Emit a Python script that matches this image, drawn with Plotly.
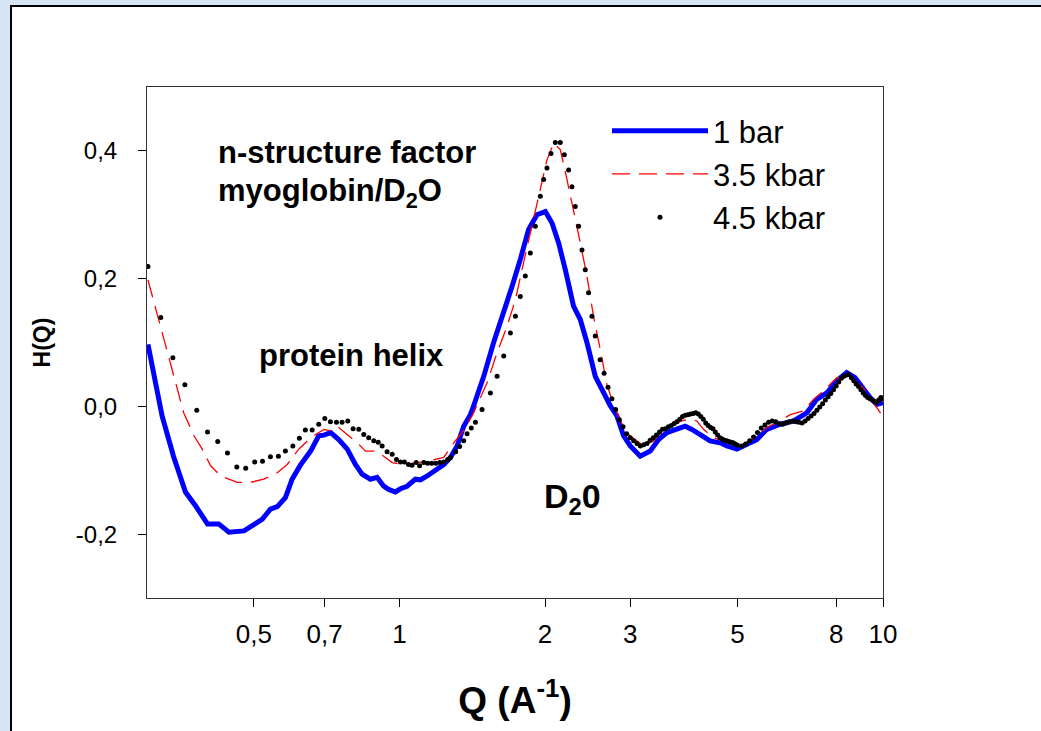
import plotly.graph_objects as go

# ---------------- data ----------------
blue_q = [0.302, 0.323, 0.341, 0.361, 0.379, 0.401, 0.423, 0.444, 0.477, 0.504,
          0.520, 0.541, 0.559, 0.581, 0.600, 0.624, 0.655, 0.681, 0.698, 0.721,
          0.749, 0.780, 0.811, 0.837, 0.871, 0.899, 0.928, 0.950, 0.981, 1.005,
          1.037, 1.079, 1.105, 1.141, 1.187, 1.235, 1.275, 1.316, 1.358, 1.402,
          1.424, 1.494, 1.566, 1.643, 1.710, 1.778, 1.850, 1.925, 2.003, 2.068,
          2.134, 2.203, 2.291, 2.366, 2.442, 2.541, 2.643, 2.729, 2.817, 2.907,
          3.002, 3.147, 3.301, 3.434, 3.574, 3.748, 3.899, 4.025, 4.187, 4.391,
          4.605, 4.755, 4.986, 5.229, 5.483, 5.751, 6.125, 6.524, 6.956, 7.295,
          7.651, 8.022, 8.414, 8.752, 9.106, 9.400, 9.705, 10.0]
blue_h = [0.097, -0.015, -0.078, -0.134, -0.156, -0.184, -0.184, -0.197, -0.195, -0.184,
          -0.177, -0.161, -0.157, -0.143, -0.114, -0.092, -0.070, -0.046, -0.045, -0.041,
          -0.052, -0.067, -0.091, -0.106, -0.114, -0.111, -0.125, -0.130, -0.134, -0.129,
          -0.125, -0.114, -0.115, -0.109, -0.101, -0.091, -0.080, -0.062, -0.031, -0.013,
          0.001, 0.047, 0.100, 0.146, 0.188, 0.230, 0.277, 0.300, 0.305, 0.287,
          0.256, 0.214, 0.157, 0.136, 0.100, 0.047, 0.021, 0.001, -0.015, -0.046,
          -0.062, -0.078, -0.070, -0.052, -0.041, -0.036, -0.031, -0.036, -0.044, -0.054,
          -0.057, -0.062, -0.067, -0.059, -0.052, -0.036, -0.028, -0.023, -0.010, 0.011,
          0.021, 0.040, 0.053, 0.045, 0.027, 0.014, 0.003, 0.006]

red_q = [0.302, 0.313, 0.329, 0.342, 0.358, 0.376, 0.391, 0.407, 0.427, 0.462,
         0.492, 0.524, 0.559, 0.586, 0.619, 0.650, 0.671, 0.698, 0.726, 0.749,
         0.786, 0.818, 0.851, 0.892, 0.928, 0.966, 1.021, 1.088, 1.159, 1.235,
         1.295, 1.358, 1.424, 1.518, 1.592, 1.669, 1.737, 1.806, 1.865, 1.940,
         2.019, 2.084, 2.151, 2.221, 2.292, 2.366, 2.442, 2.520, 2.602, 2.686,
         2.772, 2.862, 2.955, 3.099, 3.197, 3.353, 3.490, 3.630, 3.807, 3.993,
         4.122, 4.254, 4.461, 4.678, 4.906, 5.065, 5.312, 5.571, 5.751, 6.127,
         6.425, 6.845, 7.179, 7.529, 8.023, 8.415, 8.754, 9.106, 9.402, 9.706,
         9.939]
red_h = [0.198, 0.154, 0.094, 0.042, -0.010, -0.046, -0.067, -0.093, -0.109, -0.119,
         -0.119, -0.114, -0.104, -0.091, -0.067, -0.052, -0.044, -0.036, -0.039, -0.033,
         -0.046, -0.057, -0.070, -0.070, -0.078, -0.088, -0.091, -0.088, -0.085, -0.080,
         -0.057, -0.038, -0.010, 0.037, 0.084, 0.125, 0.167, 0.225, 0.271, 0.329,
         0.386, 0.412, 0.402, 0.355, 0.308, 0.256, 0.204, 0.141, 0.089, 0.034,
         0.003, -0.022, -0.042, -0.055, -0.062, -0.054, -0.039, -0.031, -0.023, -0.020,
         -0.023, -0.036, -0.049, -0.054, -0.059, -0.062, -0.053, -0.044, -0.033, -0.023,
         -0.013, -0.007, 0.011, 0.024, 0.045, 0.042, 0.040, 0.029, 0.014, 0.000,
         -0.013]

black_q = [0.302, 0.321, 0.340, 0.360, 0.381, 0.401, 0.421, 0.441, 0.461, 0.481,
           0.502, 0.521, 0.541, 0.562, 0.581, 0.602, 0.621, 0.639, 0.660, 0.681,
           0.701, 0.720, 0.741, 0.761, 0.782, 0.802, 0.824, 0.844, 0.864, 0.885,
           0.904, 0.921, 0.943, 0.966, 0.986, 1.005, 1.024, 1.044, 1.062, 1.083,
           1.101, 1.123, 1.144, 1.166, 1.189, 1.212, 1.235, 1.259, 1.275, 1.307,
           1.332, 1.358, 1.380, 1.408, 1.436, 1.482, 1.542, 1.592, 1.643, 1.696,
           1.737, 1.778, 1.821, 1.865, 1.910, 1.956, 1.987, 2.019, 2.058, 2.101,
           2.151, 2.193, 2.238, 2.274, 2.310, 2.347, 2.385, 2.423, 2.461, 2.501,
           2.541, 2.60, 2.65, 2.70, 2.75, 2.80, 2.85, 2.90, 2.95, 3.00,
           3.05, 3.10, 3.15, 3.20, 3.25, 3.30, 3.35, 3.40, 3.45, 3.50,
           3.55, 3.60, 3.65, 3.70, 3.75, 3.80, 3.85, 3.90, 3.95, 4.00,
           4.05, 4.10, 4.15, 4.20, 4.25, 4.30, 4.35, 4.40, 4.45, 4.50,
           4.55, 4.60, 4.65, 4.70, 4.75, 4.80, 4.85, 4.90, 4.95, 5.00,
           5.1, 5.2, 5.3, 5.4, 5.5, 5.6, 5.7, 5.8, 5.9, 6.0,
           6.1, 6.2, 6.3, 6.4, 6.5, 6.6, 6.7, 6.8, 6.9, 7.0,
           7.1, 7.2, 7.3, 7.4, 7.5, 7.6, 7.7, 7.8, 7.9, 8.0,
           8.1, 8.2, 8.3, 8.4, 8.5, 8.6, 8.7, 8.8, 8.9, 9.0,
           9.1, 9.2, 9.3, 9.4, 9.5, 9.6, 9.7, 9.8, 9.9, 10.0]
black_h = [0.219, 0.139, 0.076, 0.034, -0.006, -0.040, -0.055, -0.073, -0.095, -0.097,
           -0.087, -0.086, -0.079, -0.078, -0.070, -0.062, -0.050, -0.037, -0.037, -0.028,
           -0.019, -0.024, -0.025, -0.025, -0.023, -0.035, -0.036, -0.044, -0.049, -0.054,
           -0.056, -0.062, -0.071, -0.075, -0.083, -0.087, -0.087, -0.091, -0.092, -0.088,
           -0.093, -0.088, -0.089, -0.089, -0.089, -0.088, -0.087, -0.083, -0.080, -0.071,
           -0.063, -0.054, -0.043, -0.034, -0.025, -0.005, 0.021, 0.047, 0.079, 0.115,
           0.141, 0.172, 0.204, 0.240, 0.282, 0.329, 0.355, 0.373, 0.396, 0.413,
           0.413, 0.394, 0.370, 0.344, 0.313, 0.282, 0.245, 0.214, 0.178, 0.141,
           0.110, 0.073, 0.052, 0.030, 0.012, -0.005, -0.021, -0.032, -0.043, -0.049,
           -0.054, -0.058, -0.062, -0.060, -0.058, -0.053, -0.049, -0.045, -0.040, -0.036,
           -0.035, -0.032, -0.030, -0.027, -0.024, -0.020, -0.016, -0.014, -0.013, -0.012,
           -0.011, -0.010, -0.012, -0.016, -0.020, -0.026, -0.030, -0.033, -0.035, -0.040,
           -0.045, -0.049, -0.051, -0.053, -0.054, -0.055, -0.056, -0.057, -0.059, -0.061,
           -0.062, -0.059, -0.054, -0.048, -0.041, -0.034, -0.029, -0.025, -0.023, -0.024,
           -0.027, -0.028, -0.026, -0.024, -0.023, -0.024, -0.025, -0.026, -0.023, -0.019,
           -0.015, -0.011, -0.006, -0.001, 0.004, 0.010, 0.015, 0.020, 0.026, 0.032,
           0.038, 0.044, 0.047, 0.049, 0.050, 0.045, 0.040, 0.035, 0.031, 0.026,
           0.021, 0.017, 0.014, 0.012, 0.010, 0.008, 0.006, 0.010, 0.014, 0.012]

series_names = ["1 bar", "3.5 kbar", "4.5 kbar"]
x_tick_vals = [0.5, 0.7, 1, 2, 3, 5, 8, 10]
x_tick_text = ["0,5", "0,7", "1", "2", "3", "5", "8", "10"]
y_tick_vals = [-0.2, 0.0, 0.2, 0.4]
y_tick_text = ["-0,2", "0,0", "0,2", "0,4"]

# ---------------- figure ----------------
FONT = "Arial, Liberation Sans, sans-serif"

fig = go.Figure()
fig.add_trace(go.Scatter(x=blue_q, y=blue_h, mode="lines", name=series_names[0],
                         line=dict(color="#0000ff", width=5)))
fig.add_trace(go.Scatter(x=red_q, y=red_h, mode="lines", name=series_names[1],
                         line=dict(color="#ff0000", width=1.3, dash="18px,9px")))
fig.add_trace(go.Scatter(x=black_q, y=black_h, mode="markers", name=series_names[2],
                         marker=dict(color="black", size=5, line=dict(width=0))))

W, H = 1041, 731
L, R, T, B = 147, 158, 87, 133
pw, ph = W - L - R, H - T - B

def px(xp):
    return (xp - L) / pw

def py(yp):
    return (H - B - yp) / ph

fig.update_layout(
    width=W, height=H,
    margin=dict(l=L, r=R, t=T, b=B),
    paper_bgcolor="#d6e5f4",
    plot_bgcolor="white",
    font=dict(family=FONT, color="black"),
    showlegend=True,
    legend=dict(x=px(607), y=py(104), xanchor="left", yanchor="top",
                bgcolor="rgba(0,0,0,0)", font=dict(size=31, family=FONT),
                itemwidth=96, tracegroupgap=0),
    xaxis=dict(type="log", range=[-0.522, 1.0],
               tickvals=x_tick_vals, ticktext=x_tick_text,
               ticks="outside", ticklen=8, tickcolor="black", tickwidth=1,
               ticklabelstandoff=5,
               tickfont=dict(size=26, family=FONT),
               showline=True, linecolor="#333333", linewidth=1, mirror=True,
               showgrid=False, zeroline=False,
               title=dict(text="<b>Q (A<sup>-1</sup>)</b>", standoff=38,
                          font=dict(size=37, family=FONT))),
    yaxis=dict(range=[-0.3, 0.5],
               tickvals=y_tick_vals, ticktext=y_tick_text,
               ticks="outside", ticklen=8, tickcolor="black", tickwidth=1,
               ticklabelstandoff=16,
               tickfont=dict(size=24, family=FONT),
               showline=True, linecolor="#333333", linewidth=1, mirror=True,
               showgrid=False, zeroline=False,
               title=dict(text="<b>H(Q)</b>", standoff=18,
                          font=dict(size=23, family=FONT))),
    shapes=[dict(type="rect", xref="paper", yref="paper", layer="below",
                 x0=px(11), y0=py(745), x1=px(1060), y1=py(6),
                 fillcolor="white", line=dict(color="black", width=2))],
)

ann_font = dict(family=FONT, size=31, color="black")
fig.add_annotation(x=px(216), y=py(152), xref="paper", yref="paper", xanchor="left",
                   yanchor="middle", showarrow=False, text="<b>n-structure factor</b>",
                   font=ann_font)
fig.add_annotation(x=px(216), y=py(193), xref="paper", yref="paper", xanchor="left",
                   yanchor="middle", showarrow=False, text="<b>myoglobin/D<sub>2</sub>O</b>",
                   font=ann_font)
fig.add_annotation(x=px(351), y=py(355), xref="paper", yref="paper", xanchor="center",
                   yanchor="middle", showarrow=False, text="<b>protein helix</b>",
                   font=ann_font)
fig.add_annotation(x=px(572), y=py(498), xref="paper", yref="paper", xanchor="center",
                   yanchor="middle", showarrow=False, text="<b>D<sub>2</sub>0</b>",
                   font=dict(family=FONT, size=34, color="black"))

fig.write_html("out.html")
